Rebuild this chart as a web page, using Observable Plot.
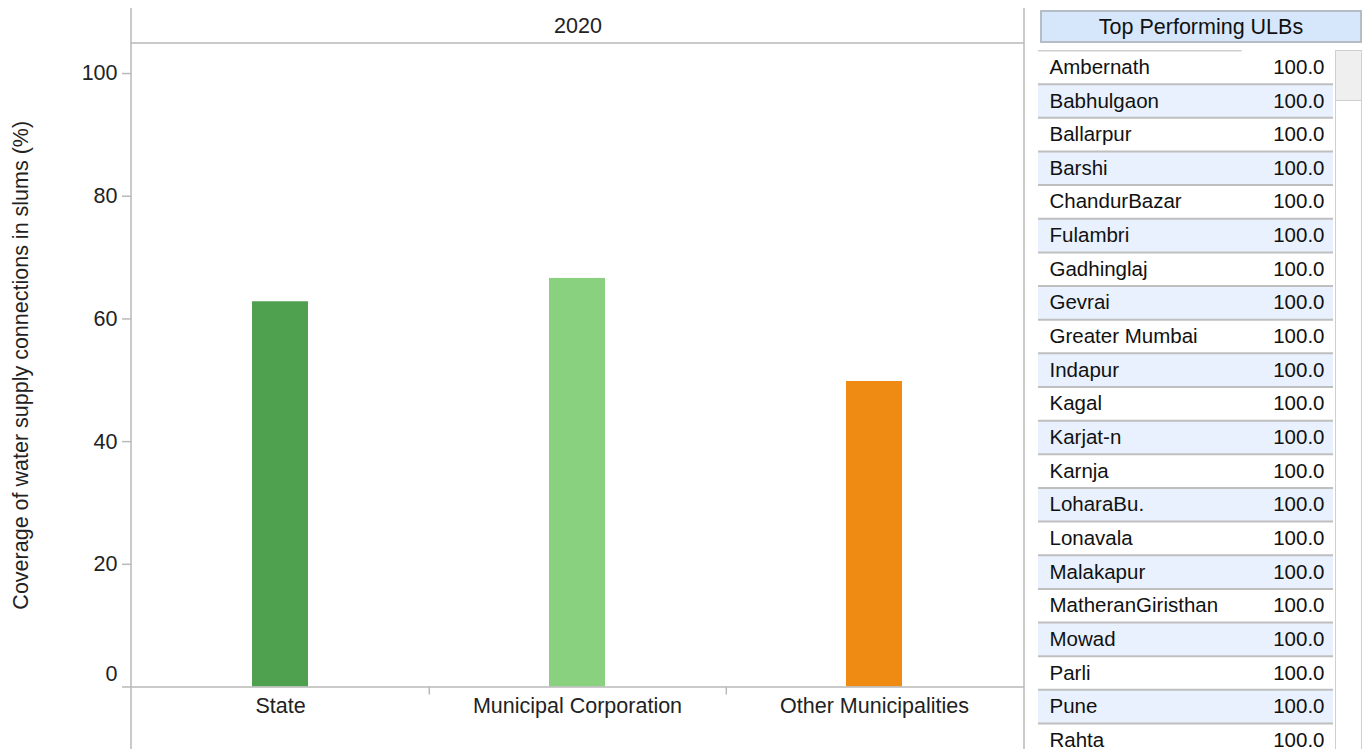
<!DOCTYPE html>
<html>
<head>
<meta charset="utf-8">
<script src="https://cdn.jsdelivr.net/npm/d3@7"></script>
<script src="https://cdn.jsdelivr.net/npm/@observablehq/plot@0.6"></script>
<style>
  html, body { margin: 0; padding: 0; background: #fff; overflow: hidden; width: 1367px; height: 749px; }
  body { position: relative; font-family: "Liberation Sans", Arial, sans-serif; color: #222; }
  #chart { position: absolute; left: 0; top: 0; }
  #tableHead { position: absolute; left: 1040px; top: 10px; width: 318px; height: 29px; background: #d7e7fb;
    border: 2px solid #b4bcc6; font-size: 21.5px; line-height: 30px; text-align: center; color: #111; }
  #table { position: absolute; left: 1038px; top: 50px; }
  #scroll { position: absolute; left: 1335px; top: 50px; width: 25px; height: 699px; border: 1px solid #cfcfcf; border-bottom: none; background: #fff; }
  #thumb { position: absolute; left: 0; top: 0; width: 25px; height: 49px; background: #efefef; border-bottom: 1px solid #cfcfcf; }
</style>
</head>
<body>
<div id="chart"></div>
<div id="tableHead"></div>
<div id="table"></div>
<div id="scroll"><div id="thumb"></div></div>
<script>
const categories = ["State", "Municipal Corporation", "Other Municipalities"];
const values = [62.8, 66.6, 49.8];
const colors = ["#50a14f", "#89d17e", "#ef8b12"];
const facetYear = "2020";
const yTicks = [0, 20, 40, 60, 80, 100];
const yLabel = "Coverage of water supply connections in slums (%)";

const tableTitle = "Top Performing ULBs";
const ulbNames = ["Ambernath", "Babhulgaon", "Ballarpur", "Barshi", "ChandurBazar", "Fulambri",
  "Gadhinglaj", "Gevrai", "Greater Mumbai", "Indapur", "Kagal", "Karjat-n", "Karnja", "LoharaBu.",
  "Lonavala", "Malakapur", "MatheranGiristhan", "Mowad", "Parli", "Pune", "Rahta"];
const ulbValues = [100, 100, 100, 100, 100, 100, 100, 100, 100, 100, 100, 100, 100, 100,
  100, 100, 100, 100, 100, 100, 100];

const data = categories.map((c, i) => ({category: c, value: values[i], color: colors[i]}));
const gray = "#b9b9b9";

const W = 1030, H = 749;
const chart = Plot.plot({
  width: W, height: H,
  marginLeft: 131, marginRight: 6, marginTop: 43, marginBottom: 62.5,
  style: {fontFamily: "Liberation Sans, Arial, sans-serif", fontSize: "21.5px", color: "#222", background: "transparent"},
  x: {domain: categories, paddingInner: 0.81, paddingOuter: 0.405, axis: null},
  y: {domain: [0, 104.9], axis: null},
  color: {type: "identity"},
  marks: [
    Plot.barY(data, {x: "category", y: "value", fill: "color"}),
    Plot.ruleY([0], {stroke: gray, strokeWidth: 1.5}),
    Plot.axisY(yTicks, {anchor: "left", tickSize: 9, tickPadding: 5, stroke: gray, strokeWidth: 1.5,
      tickFormat: d => d === 0 ? "" : d, label: null, fill: "#222"}),
    Plot.axisY([0], {anchor: "left", tickSize: 0, tickPadding: 14, dy: -13, label: null, fill: "#222"}),
    Plot.axisX(categories, {anchor: "bottom", tickSize: 0, tickPadding: 11, label: null, fill: "#222"}),
    Plot.axisX(categories.slice(0, 2), {anchor: "bottom", tickSize: 8, dx: 148.8, tickFormat: () => "",
      label: null, stroke: gray, strokeWidth: 1.5}),
    Plot.text([facetYear], {frameAnchor: "top", lineAnchor: "middle", dy: -17.5, text: d => d, fill: "#222"}),
    Plot.text([yLabel], {frameAnchor: "left", textAnchor: "middle", lineAnchor: "middle", rotate: -90, dx: -110, text: d => d, fill: "#222"})
  ]
});
document.getElementById("chart").appendChild(chart);

// decorative trellis frame lines
const svg = d3.select(chart.tagName === "svg" ? chart : chart.querySelector("svg"));
const frame = svg.append("g").attr("stroke", gray).attr("stroke-width", 1.5);
frame.append("line").attr("x1", 131).attr("x2", 131).attr("y1", 8).attr("y2", H);
frame.append("line").attr("x1", 1024).attr("x2", 1024).attr("y1", 8).attr("y2", H);
frame.append("line").attr("x1", 131).attr("x2", 1024).attr("y1", 43).attr("y2", 43);

document.getElementById("tableHead").textContent = tableTitle;

// table
const rowH = 33.65;
const tH = 699, tW = 295;
const rows = ulbNames.map((n, i) => ({name: n, value: ulbValues[i], i}));
const table = Plot.plot({
  width: tW, height: tH, margin: 0,
  style: {fontFamily: "Liberation Sans, Arial, sans-serif", fontSize: "20.5px", color: "#111", background: "transparent"},
  x: {domain: [0, 1], range: [0, tW], axis: null},
  y: {domain: [0, tH / rowH], range: [0, tH], axis: null},
  marks: [
    Plot.rect(rows, {x1: 0, x2: 1, y1: d => d.i, y2: d => d.i + 1, fill: d => d.i % 2 ? "#e8f1fd" : "#ffffff"}),
    Plot.ruleY(rows, {y: d => d.i + 1, x1: 0, x2: 1, stroke: "#bfbfbf", strokeWidth: 2}),
    Plot.ruleY([0], {x1: 0, x2: 0.69, stroke: "#cfcfcf", strokeWidth: 2}),
    Plot.text(rows, {x: 0, y: d => d.i + 0.5, dx: 11, text: "name", textAnchor: "start", fill: "#111"}),
    Plot.text(rows, {x: 1, y: d => d.i + 0.5, dx: -9, text: d => d.value.toFixed(1), textAnchor: "end", fill: "#111"})
  ]
});
document.getElementById("table").appendChild(table);
</script>
</body>
</html>
